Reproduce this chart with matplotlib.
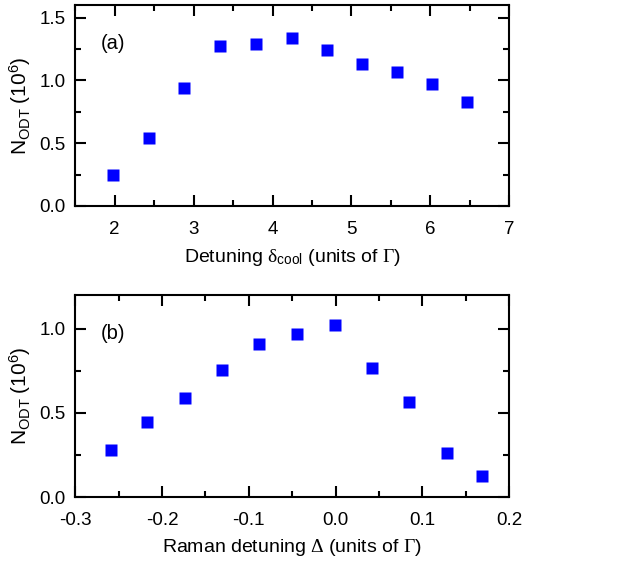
import matplotlib
matplotlib.use("Agg")
import matplotlib.pyplot as plt
from matplotlib.ticker import MultipleLocator, FormatStrFormatter

plt.rcParams["font.family"] = ["Liberation Sans", "DejaVu Sans"]
plt.rcParams["mathtext.fontset"] = "custom"
plt.rcParams["mathtext.rm"] = "Liberation Serif"
plt.rcParams["mathtext.it"] = "Liberation Serif:italic"
plt.rcParams["mathtext.sf"] = "Liberation Sans"

# (a) atom number vs cooling detuning
delta_cool = [1.975, 2.431, 2.883, 3.334, 3.786, 4.242, 4.690, 5.138, 5.581, 6.020, 6.468]
n_odt_a = [0.247, 0.544, 0.942, 1.277, 1.293, 1.338, 1.242, 1.134, 1.067, 0.972, 0.831]

# (b) atom number vs Raman detuning
raman_delta = [-0.259, -0.217, -0.174, -0.131, -0.088, -0.045, -0.001, 0.042, 0.085, 0.128, 0.1685]
n_odt_b = [0.279, 0.446, 0.586, 0.755, 0.908, 0.968, 1.024, 0.769, 0.566, 0.259, 0.127]

fig = plt.figure(figsize=(6.43, 5.69), dpi=100)
ax1 = fig.add_axes([0.117, 0.638, 0.675, 0.353])
ax2 = fig.add_axes([0.117, 0.1265, 0.675, 0.355])

ylabel = r"$\mathsf{N_{ODT}\ (10^{6})}$"
panels = [
    (ax1, delta_cool, n_odt_a, "(a)", (1.5, 7), (0, 1.6), 1, 0.5, -0.205,
     r"Detuning $\mathrm{\delta}_{\mathsf{cool}}$ (units of $\mathrm{\Gamma}$)"),
    (ax2, raman_delta, n_odt_b, "(b)", (-0.3, 0.2), (0, 1.2), 0.1, 0.5, -0.2,
     r"Raman detuning $\mathrm{\Delta}$ (units of $\mathrm{\Gamma}$)"),
]

for ax, x, y, tag, xl, yl, xmaj, ymaj, xlab_y, xlabel in panels:
    ax.plot(x, y, "s", color="#0000ff", ms=8.5, mec="none")
    ax.set_xlim(*xl)
    ax.set_ylim(*yl)
    ax.xaxis.set_major_locator(MultipleLocator(xmaj))
    ax.xaxis.set_minor_locator(MultipleLocator(xmaj / 2))
    ax.yaxis.set_major_locator(MultipleLocator(ymaj))
    ax.yaxis.set_minor_locator(MultipleLocator(ymaj / 2))
    ax.tick_params(which="both", direction="in", top=True, right=True,
                   width=1.5, labelsize=13.5)
    ax.tick_params(which="major", length=8)
    ax.tick_params(which="minor", length=4.5)
    ax.tick_params(axis="x", which="major", pad=10.5)
    ax.tick_params(axis="y", which="major", pad=7)
    for s in ax.spines.values():
        s.set_linewidth(1.5)
    ax.set_xlabel(xlabel, fontsize=14)
    ax.xaxis.set_label_coords(0.5, xlab_y)
    ax.set_ylabel(ylabel, fontsize=15)
    ax.yaxis.set_label_coords(-0.097, 0.5)
    ax.text(0.058, 0.81, tag, transform=ax.transAxes, fontsize=14.5, va="center")
    ax.yaxis.set_major_formatter(FormatStrFormatter("%.1f"))

ax2.xaxis.set_major_formatter(FormatStrFormatter("%.1f"))

fig.savefig("out.png", dpi=100)
